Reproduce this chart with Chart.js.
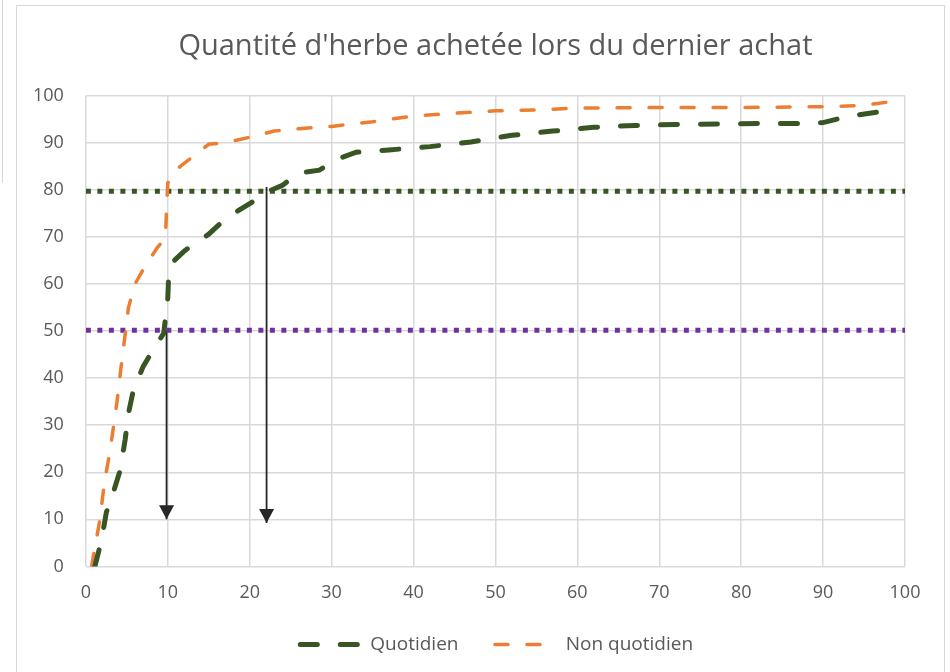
<!DOCTYPE html>
<html lang="fr">
<head>
    <meta charset="UTF-8">
    <title>Quantité d'herbe achetée lors du dernier achat</title>
    <style>
        html, body {
            margin: 0;
            padding: 0;
            background: #ffffff;
        }
        #page {
            position: relative;
            width: 950px;
            height: 672px;
            overflow: hidden;
            background: #ffffff;
        }
        /* cadre du graphique (copie d'écran Excel) */
        #frame {
            position: absolute;
            left: 16px;
            top: 5px;
            width: 929px;
            height: 700px;
            border: 1.5px solid #d9d9d9;
            box-sizing: border-box;
        }
        #edge {
            position: absolute;
            left: 2px;
            top: 0;
            width: 0;
            height: 183px;
            border-left: 1.5px solid #d9d9d9;
        }
        #chart-container {
            position: absolute;
            left: 0;
            top: 0;
            width: 950px;
            height: 672px;
        }
    </style>
    <script src="https://cdn.jsdelivr.net/npm/chart.js"></script>
</head>
<body>
<div id="page">
    <div id="edge"></div>
    <div id="frame"></div>
    <div id="chart-container">
        <canvas id="herbeChart"></canvas>
    </div>
</div>

<script>
    // Quotidien (courbe verte)
    const xQuotidien = [1.1, 1.9, 2.5, 3.4, 4.2, 4.8, 5.2, 5.8, 7, 8.2, 9.5, 10, 10.1, 10.8, 12, 13.2, 15, 16.5, 18.6, 20.2, 22, 24, 26, 28.5, 30.8, 33, 37, 42, 47, 52, 57, 62, 67, 72, 77, 82, 87, 90, 93, 97.6];
    const yQuotidien = [0, 5.5, 11.5, 16, 20.5, 27, 32.5, 37.5, 42.5, 46, 49.5, 57, 61.5, 65, 67, 68.5, 70.6, 73, 75.6, 77.3, 79.5, 81, 83.6, 84.2, 86.6, 88, 88.5, 89.2, 90.2, 91.6, 92.5, 93.3, 93.7, 93.9, 94, 94.1, 94.1, 94.3, 95.6, 96.8];

    // Non quotidien (courbe orange)
    const xNonQuotidien = [0.7, 1.1, 1.7, 2.3, 2.9, 3.4, 3.8, 4.2, 4.8, 5.2, 6, 7.1, 8.7, 9.7, 10, 11.5, 13, 15, 17, 20, 23, 26, 30, 35, 40, 45, 50, 55, 60, 70, 80, 90, 94.3, 98.6];
    const yNonQuotidien = [0, 4, 9.8, 18.3, 24, 30, 35, 41, 49.4, 55, 60, 63.4, 67.7, 69.8, 81.5, 85, 87, 89.7, 90, 91.2, 92.5, 93, 93.5, 94.5, 95.7, 96.3, 96.8, 97, 97.4, 97.5, 97.5, 97.7, 97.9, 98.8];

    // seuils horizontaux (pointillés) : 80 % et 50 %
    const seuilValeurs = [79.7, 50.2];
    const seuilCouleurs = ['#375623', '#7030A0'];

    // flèches verticales
    const flecheX = [9.85, 22.06];
    const flecheHaut = [50.2, 80.6];
    const flecheBas = [10, 9.2];

    const xTicks = [0, 10, 20, 30, 40, 50, 60, 70, 80, 90, 100];
    const yTicks = [0, 10, 20, 30, 40, 50, 60, 70, 80, 90, 100];

    const toPoints = (xs, ys) => xs.map((x, i) => ({x: x, y: ys[i]}));

    const datasets = [
        {
            label: 'Quotidien',
            data: toPoints(xQuotidien, yQuotidien),
            borderColor: '#375623',
            borderWidth: 5,
            borderDash: [17, 23],
            borderCapStyle: 'round',
            pointRadius: 0,
            pointStyle: 'line',
            fill: false,
            tension: 0
        },
        {
            label: 'Non quotidien',
            data: toPoints(xNonQuotidien, yNonQuotidien),
            borderColor: '#ED7D31',
            borderWidth: 3.5,
            borderDash: [13, 19],
            borderCapStyle: 'round',
            pointRadius: 0,
            pointStyle: 'line',
            fill: false,
            tension: 0
        }
    ];

    seuilValeurs.forEach((v, i) => {
        datasets.push({
            label: 'seuil ' + v,
            data: [{x: 0, y: v}, {x: 100, y: v}],
            borderColor: seuilCouleurs[i],
            borderWidth: 5,
            borderDash: [5, 6.5],
            borderCapStyle: 'butt',
            pointRadius: 0,
            fill: false
        });
    });

    flecheX.forEach((x, i) => {
        datasets.push({
            label: 'flèche ' + (i + 1),
            data: [{x: x, y: flecheHaut[i]}, {x: x, y: flecheBas[i]}],
            borderColor: '#262626',
            borderWidth: 1.8,
            pointRadius: 0,
            fill: false,
            isArrow: true
        });
    });

    // pointe de flèche au dernier point des jeux "flèche"
    const arrowHeads = {
        id: 'arrowHeads',
        afterDatasetsDraw(chart) {
            const ctx = chart.ctx;
            chart.data.datasets.forEach((ds, i) => {
                if (!ds.isArrow) return;
                const pts = chart.getDatasetMeta(i).data;
                const tip = pts[pts.length - 1];
                ctx.save();
                ctx.fillStyle = ds.borderColor;
                ctx.beginPath();
                ctx.moveTo(tip.x, tip.y);
                ctx.lineTo(tip.x - 7.5, tip.y - 14);
                ctx.lineTo(tip.x + 7.5, tip.y - 14);
                ctx.closePath();
                ctx.fill();
                ctx.restore();
            });
        }
    };

    const tickFont = {family: "'Open Sans', sans-serif", size: 18};

    new Chart(document.getElementById('herbeChart'), {
        type: 'line',
        data: {datasets: datasets},
        options: {
            responsive: true,
            maintainAspectRatio: false,
            animation: false,
            layout: {
                padding: {left: 11, right: 45, top: 0, bottom: 8}
            },
            plugins: {
                title: {
                    display: true,
                    fullSize: false,
                    text: "Quantité d'herbe achetée lors du dernier achat",
                    color: '#595959',
                    font: {family: "'Open Sans', sans-serif", size: 29, weight: 'normal'},
                    padding: {top: 29, bottom: 32}
                },
                legend: {
                    position: 'bottom',
                    fullSize: false,
                    labels: {
                        usePointStyle: true,
                        pointStyle: 'line',
                        pointStyleWidth: 63,
                        boxHeight: 19,
                        color: '#595959',
                        font: {family: "'Open Sans', sans-serif", size: 19},
                        padding: 15,
                        generateLabels: (chart) => {
                            const items = Chart.defaults.plugins.legend.labels.generateLabels(chart);
                            // reprendre le tiret des courbes dans la légende
                            items.forEach((item) => {
                                const ds = chart.data.datasets[item.datasetIndex];
                                item.lineDash = ds.borderDash || [];
                                item.lineCap = ds.borderCapStyle || 'butt';
                                item.lineWidth = ds.borderWidth;
                                item.lineDashOffset = -(ds.borderWidth / 2);
                            });
                            // espace entre les deux entrées de légende
                            items[0].text = items[0].text + '    ';
                            return items;
                        },
                        filter: (item) => item.datasetIndex < 2
                    }
                },
                tooltip: {enabled: false}
            },
            scales: {
                x: {
                    type: 'linear',
                    min: 0,
                    max: 100,
                    afterBuildTicks: (axis) => { axis.ticks = xTicks.map(v => ({value: v})); },
                    grid: {color: '#d9d9d9', lineWidth: 1.5, drawTicks: false},
                    border: {display: false},
                    ticks: {color: '#595959', font: tickFont, padding: 16}
                },
                y: {
                    min: 0,
                    max: 100,
                    afterBuildTicks: (axis) => { axis.ticks = yTicks.map(v => ({value: v})); },
                    grid: {color: '#d9d9d9', lineWidth: 1.5, drawTicks: false},
                    border: {display: false},
                    ticks: {color: '#595959', font: tickFont, padding: 22}
                }
            }
        },
        plugins: [arrowHeads]
    });
</script>
</body>
</html>
